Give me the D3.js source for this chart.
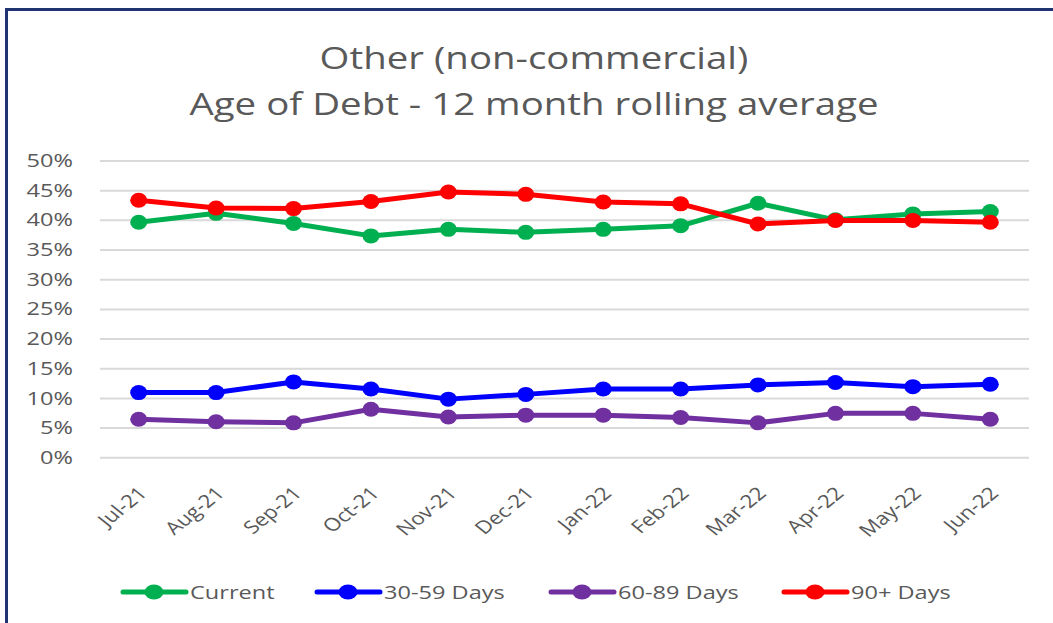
<!DOCTYPE html>
<html lang="en">
    <head>
        <meta charset="utf-8">
        <title>Age of Debt</title>
        <script src="https://d3js.org/d3.v7.min.js"></script>
        <style>
            body { margin: 0; background: #fff; }
        </style>
    </head>
    <body>
        <script type="text/javascript">
            var width = 1053;
            var height = 623;

            // data
            var months = ["Jul-21", "Aug-21", "Sep-21", "Oct-21", "Nov-21", "Dec-21",
                          "Jan-22", "Feb-22", "Mar-22", "Apr-22", "May-22", "Jun-22"];
            var current = [39.6, 41.1, 39.4, 37.3, 38.4, 37.9, 38.4, 39.0, 42.8, 40.0, 41.0, 41.4];
            var days30 = [10.9, 10.9, 12.7, 11.5, 9.8, 10.6, 11.5, 11.5, 12.2, 12.6, 11.9, 12.3];
            var days60 = [6.4, 6.0, 5.8, 8.1, 6.8, 7.1, 7.1, 6.7, 5.8, 7.4, 7.4, 6.4];
            var days90 = [43.3, 42.0, 41.9, 43.1, 44.7, 44.3, 43.0, 42.7, 39.3, 39.9, 39.9, 39.6];
            var yTicks = [0, 5, 10, 15, 20, 25, 30, 35, 40, 45, 50];

            var series = [
                { name: "Current", values: current, color: "#00B050" },
                { name: "30-59 Days", values: days30, color: "#0000FF" },
                { name: "60-89 Days", values: days60, color: "#7030A0" },
                { name: "90+ Days", values: days90, color: "#FF0000" }
            ];

            var margin = { left: 100, right: 24, top: 160.5, bottom: 166 };
            var textColor = "#595959";
            var font = "'Open Sans', sans-serif";
            var stretch = 1.24; // the picture is a bit wider than tall

            var svg = d3.select("body")
                .append("svg")
                .attr("width", width)
                .attr("height", height);

            svg.append("rect")
                .attr("width", width)
                .attr("height", height)
                .attr("fill", "#fff");

            // outer border (right and bottom run off the picture)
            svg.append("rect")
                .attr("x", 6.5)
                .attr("y", 9.5)
                .attr("width", width + 20)
                .attr("height", height + 20)
                .attr("fill", "none")
                .attr("stroke", "#1F3470")
                .attr("stroke-width", 3);

            var x = d3.scaleBand()
                .domain(months)
                .range([margin.left, width - margin.right]);

            var y = d3.scaleLinear()
                .domain([0, 50])
                .range([height - margin.bottom + 0.3, margin.top]);

            // title
            var titleLines = ["Other (non-commercial)", "Age of Debt - 12 month rolling average"];
            svg.selectAll(".title")
                .data(titleLines)
                .enter()
                .append("text")
                .attr("class", "title")
                .attr("transform", function (d, i) {
                    return "translate(534," + (69 + i * 46) + ") scale(" + stretch + ",1)";
                })
                .attr("text-anchor", "middle")
                .attr("font-family", font)
                .attr("font-size", 31)
                .attr("fill", textColor)
                .text(function (d) { return d; });

            // gridlines + y labels
            var yAxis = svg.append("g")
                .attr("transform", "translate(" + margin.left + ",0)")
                .call(d3.axisLeft(y)
                    .tickValues(yTicks)
                    .tickSize(-(width - margin.left - margin.right))
                    .tickFormat(function (d) { return d + "%"; }));
            yAxis.select(".domain").remove();
            yAxis.selectAll(".tick line")
                .attr("stroke", "#D9D9D9")
                .attr("stroke-width", 2);
            yAxis.selectAll(".tick text")
                .attr("x", 0)
                .attr("transform", "translate(-27,0) scale(" + stretch + ",1)")
                .attr("font-family", font)
                .attr("font-size", 19)
                .attr("fill", textColor);

            // x labels, rotated
            var xAxis = svg.append("g")
                .attr("transform", "translate(0," + (height - margin.bottom) + ")")
                .call(d3.axisBottom(x).tickSize(0).tickPadding(0));
            xAxis.select(".domain").remove();
            xAxis.selectAll(".tick text")
                .attr("font-family", font)
                .attr("font-size", 18)
                .attr("fill", textColor)
                .attr("text-anchor", "end")
                .attr("y", 0)
                .attr("dy", "0.35em")
                .attr("transform", "translate(4,33) scale(" + stretch + ",1) rotate(-45)");

            var line = d3.line()
                .x(function (d, i) { return x(months[i]) + x.bandwidth() / 2; })
                .y(function (d) { return y(d); });

            series.forEach(function (s) {
                var g = svg.append("g");
                g.append("path")
                    .datum(s.values)
                    .attr("d", line)
                    .attr("fill", "none")
                    .attr("stroke", s.color)
                    .attr("stroke-width", 5)
                    .attr("stroke-linejoin", "round");
                g.selectAll("ellipse")
                    .data(s.values)
                    .enter()
                    .append("ellipse")
                    .attr("cx", function (d, i) { return x(months[i]) + x.bandwidth() / 2; })
                    .attr("cy", function (d) { return y(d); })
                    .attr("rx", 8.5)
                    .attr("ry", 7.5)
                    .attr("fill", s.color);
            });

            // legend
            var legendX = [121, 315, 549, 782];
            var legendY = 592;
            var legend = svg.selectAll(".legend")
                .data(series)
                .enter()
                .append("g")
                .attr("class", "legend")
                .attr("transform", function (d, i) {
                    return "translate(" + legendX[i] + "," + legendY + ")";
                });
            legend.append("line")
                .attr("x1", 2)
                .attr("x2", 65)
                .attr("stroke", function (d) { return d.color; })
                .attr("stroke-width", 5)
                .attr("stroke-linecap", "round");
            legend.append("ellipse")
                .attr("cx", 33)
                .attr("rx", 9.5)
                .attr("ry", 7.5)
                .attr("fill", function (d) { return d.color; });
            legend.append("text")
                .attr("transform", "translate(69,0) scale(" + stretch + ",1)")
                .attr("dy", "0.35em")
                .attr("font-family", font)
                .attr("font-size", 19)
                .attr("fill", textColor)
                .text(function (d) { return d.name; });
        </script>
    </body>
</html>
